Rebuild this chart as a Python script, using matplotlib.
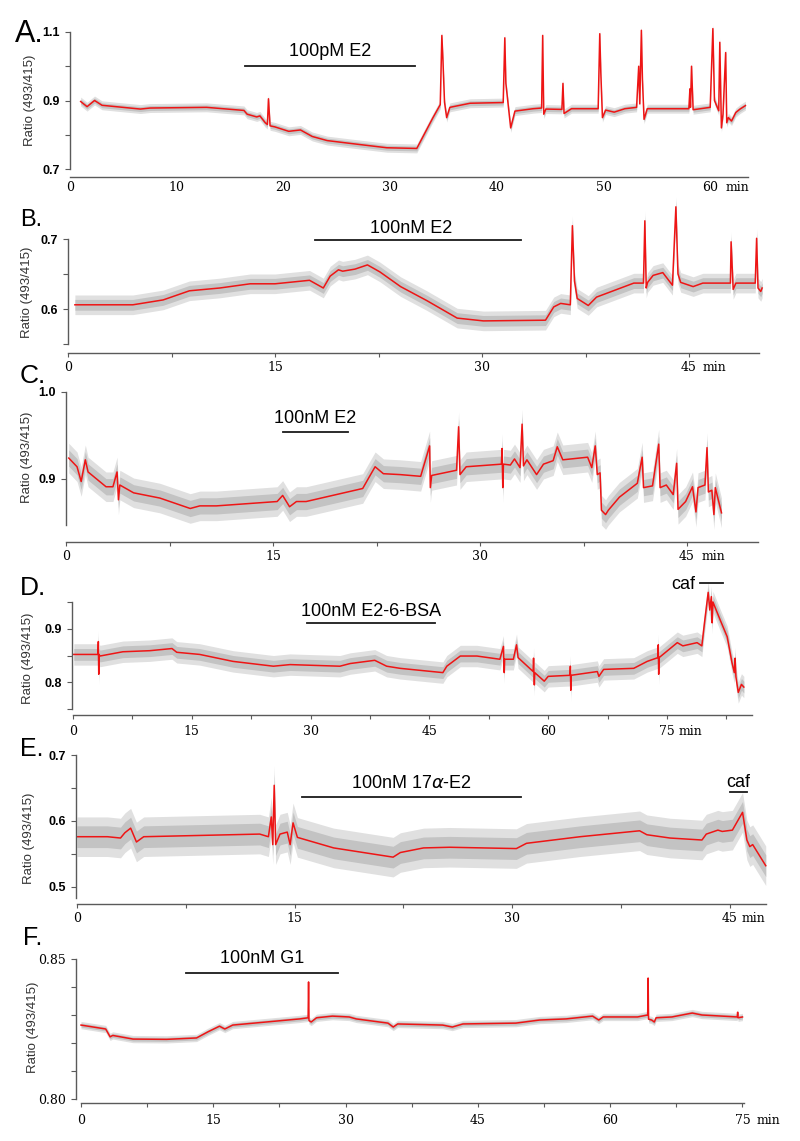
import matplotlib.pyplot as plt
from matplotlib.ticker import FixedLocator
from matplotlib.transforms import ScaledTranslation

# ---- data: time (min) and ratio of the averaged (red) trace, noise half width of raw (gray) trace
tA = [1.0, 1.6, 2.3, 3.0, 6.6, 7.5, 12.8, 16.3, 16.6, 17.5, 17.8, 18.3, 18.5, 18.6, 18.75, 19.2, 20.5,
      21.6, 22.7, 24.1, 26.2, 29.7, 32.5, 34.0, 34.7, 34.85, 34.95, 35.1, 35.3, 35.6, 37.5, 40.6, 40.75,
      40.85, 41.3, 41.7, 43.4, 44.2, 44.3, 44.4, 44.6, 46.1, 46.2, 46.3, 47.0, 49.5, 49.65, 49.75, 49.9,
      50.2, 51.0, 52.0, 53.1, 53.3, 53.4, 53.55, 53.65, 53.8, 54.1, 58.0, 58.1, 58.15, 58.25, 58.4, 60.0,
      60.25, 60.4, 60.8, 60.9, 61.05, 61.2, 61.45, 61.55, 61.7, 62.0, 62.4, 62.8, 63.3]
vA = [0.897, 0.882, 0.900, 0.886, 0.875, 0.878, 0.880, 0.871, 0.860, 0.852, 0.855, 0.835, 0.830, 0.905,
      0.826, 0.823, 0.810, 0.814, 0.795, 0.783, 0.775, 0.762, 0.760, 0.849, 0.888, 1.090, 1.020, 0.895,
      0.850, 0.880, 0.892, 0.894, 1.083, 0.950, 0.820, 0.869, 0.876, 0.878, 1.090, 0.860, 0.875, 0.874,
      0.950, 0.862, 0.876, 0.876, 1.095, 0.980, 0.850, 0.872, 0.866, 0.876, 0.880, 1.000, 0.890, 1.105,
      0.960, 0.845, 0.876, 0.876, 0.934, 0.880, 1.000, 0.873, 0.880, 1.110, 0.900, 0.870, 1.070, 0.820,
      0.860, 1.040, 0.835, 0.850, 0.840, 0.865, 0.875, 0.885]
wA = 0.013

tB = [0.5, 4.7, 6.9, 8.8, 11.0, 13.2, 15.0, 17.5, 18.5, 19.0, 19.6, 19.9, 20.8, 21.7, 22.6, 24.1, 26.0,
      28.2, 30.1, 34.6, 35.2, 35.7, 36.4, 36.55, 36.7, 36.9, 37.7, 38.3, 41.0, 41.7, 41.8, 41.9, 42.0,
      42.4, 43.1, 43.8, 44.05, 44.2, 44.4, 45.3, 46.0, 48.0, 48.05, 48.2, 48.4, 49.8, 49.9, 50.0, 50.2, 50.3]
vB = [0.606, 0.606, 0.613, 0.626, 0.630, 0.636, 0.636, 0.641, 0.630, 0.647, 0.656, 0.654, 0.657, 0.663,
      0.653, 0.632, 0.612, 0.587, 0.583, 0.584, 0.603, 0.608, 0.606, 0.719, 0.640, 0.615, 0.605, 0.617,
      0.637, 0.637, 0.726, 0.630, 0.638, 0.648, 0.652, 0.634, 0.746, 0.650, 0.638, 0.632, 0.637, 0.637,
      0.696, 0.628, 0.637, 0.637, 0.701, 0.630, 0.625, 0.630]
wB = 0.014

tC = [0.2, 0.8, 1.1, 1.4, 1.6, 2.9, 3.4, 3.7, 3.8, 3.9, 4.9, 6.8, 9.0, 9.7, 10.9, 15.3, 15.7, 16.2, 16.7,
      17.4, 21.5, 22.0, 22.4, 23.0, 24.2, 25.7, 26.35, 26.4, 26.5, 28.3, 28.45, 28.55, 29.0, 31.55, 31.6,
      31.65, 31.7, 32.2, 32.5, 32.9, 33.05, 33.15, 33.4, 34.1, 34.6, 35.3, 35.6, 36.0, 37.8, 38.1, 38.35,
      38.5, 38.7, 38.8, 39.1, 39.3, 40.1, 41.4, 41.75, 41.85, 42.5, 42.95, 43.05, 43.5, 44.0, 44.25, 44.35,
      44.9, 45.4, 45.65, 45.8, 46.3, 46.45, 46.55, 46.8, 46.95, 47.05, 47.5]
vC = [0.924, 0.914, 0.897, 0.922, 0.908, 0.891, 0.891, 0.908, 0.876, 0.893, 0.884, 0.878, 0.866, 0.869,
      0.869, 0.874, 0.881, 0.868, 0.874, 0.874, 0.889, 0.903, 0.914, 0.906, 0.905, 0.903, 0.938, 0.890,
      0.904, 0.910, 0.960, 0.905, 0.914, 0.917, 0.935, 0.890, 0.917, 0.916, 0.923, 0.913, 0.963, 0.915,
      0.922, 0.905, 0.917, 0.921, 0.937, 0.922, 0.925, 0.913, 0.938, 0.905, 0.907, 0.864, 0.859, 0.864,
      0.879, 0.895, 0.925, 0.890, 0.892, 0.940, 0.890, 0.893, 0.882, 0.918, 0.865, 0.874, 0.891, 0.862,
      0.890, 0.893, 0.936, 0.885, 0.887, 0.859, 0.890, 0.861]
wC = 0.017

tD = [0.1, 3.15, 3.2, 3.25, 3.3, 3.4, 6.3, 9.7, 12.5, 13.1, 16.0, 20.2, 25.3, 27.4, 33.7, 35.0, 38.1, 39.6,
      41.3, 46.7, 47.2, 48.9, 51.0, 53.9, 54.35, 54.45, 54.5, 55.6, 56.0, 56.2, 58.1, 58.15, 58.25, 58.3,
      59.5, 60.0, 62.75, 62.8, 62.85, 62.9, 66.2, 66.4, 67.0, 70.8, 72.5, 73.85, 73.9, 73.95, 74.0, 76.3,
      77.0, 78.8, 79.4, 79.7, 80.2, 80.4, 80.6, 80.7, 80.8, 81.7, 82.6, 83.2, 83.5, 83.6, 83.7, 84.0, 84.4, 84.7]
vD = [0.852, 0.852, 0.876, 0.815, 0.852, 0.849, 0.857, 0.859, 0.863, 0.856, 0.852, 0.839, 0.830, 0.833,
      0.830, 0.835, 0.841, 0.830, 0.826, 0.818, 0.830, 0.849, 0.849, 0.843, 0.867, 0.818, 0.843, 0.843,
      0.870, 0.846, 0.820, 0.845, 0.795, 0.818, 0.802, 0.811, 0.813, 0.830, 0.785, 0.813, 0.820, 0.811,
      0.824, 0.826, 0.839, 0.846, 0.870, 0.815, 0.846, 0.874, 0.868, 0.874, 0.868, 0.907, 0.968, 0.935,
      0.960, 0.911, 0.950, 0.917, 0.885, 0.837, 0.818, 0.845, 0.810, 0.781, 0.796, 0.791]
wD = 0.02

tE = [0.0, 2.1, 3.0, 3.3, 3.7, 4.1, 4.6, 12.6, 13.2, 13.4, 13.5, 13.6, 13.7, 14.0, 14.5, 14.7, 14.9, 15.2,
      17.7, 21.8, 22.3, 23.9, 25.7, 30.3, 31.0, 34.7, 38.8, 39.3, 40.9, 43.1, 43.4, 44.2, 44.5, 45.2, 45.9,
      46.2, 46.4, 46.6, 47.5]
vE = [0.576, 0.576, 0.574, 0.582, 0.589, 0.568, 0.576, 0.580, 0.576, 0.606, 0.564, 0.654, 0.564, 0.580,
      0.583, 0.564, 0.597, 0.575, 0.559, 0.545, 0.552, 0.559, 0.560, 0.558, 0.566, 0.576, 0.585, 0.579,
      0.574, 0.571, 0.580, 0.586, 0.584, 0.586, 0.613, 0.571, 0.561, 0.564, 0.532]
wE = 0.03

tF = [0.0, 2.8, 3.3, 3.6, 5.9, 9.7, 13.1, 14.4, 15.7, 16.3, 17.2, 24.8, 25.75, 25.8, 25.85, 26.1, 26.7,
      28.5, 30.4, 31.2, 34.8, 35.4, 35.9, 41.0, 42.1, 43.3, 49.3, 52.0, 55.0, 58.0, 58.7, 59.2, 63.1,
      64.25, 64.3, 64.35, 64.7, 65.0, 65.2, 67.0, 69.3, 70.4, 74.4, 74.45, 74.5, 75.0]
vF = [0.8264, 0.8250, 0.8222, 0.8227, 0.8214, 0.8213, 0.8218, 0.8240, 0.8260, 0.8250, 0.8264, 0.8286,
      0.8290, 0.8418, 0.8280, 0.8275, 0.8290, 0.8296, 0.8293, 0.8286, 0.8271, 0.8257, 0.8268, 0.8264,
      0.8257, 0.8268, 0.8271, 0.8282, 0.8286, 0.8296, 0.8282, 0.8293, 0.8293, 0.8300, 0.8432, 0.8285,
      0.8282, 0.8275, 0.8290, 0.8293, 0.8307, 0.8300, 0.8293, 0.8310, 0.8290, 0.8293]
wF = 0.0013

# drug applications: label, start, end (min)
drugs = {
    'A': [('100pM E2', 16.4, 32.3)],
    'B': [('100nM E2', 17.9, 32.8)],
    'C': [('100nM E2', 15.7, 20.4)],
    'D': [('100nM E2-6-BSA', 29.5, 45.7), ('caf', 79.2, 82.1)],
    'E': [('100nM 17$\\alpha$-E2', 15.5, 30.6), ('caf', 45.0, 46.2)],
    'F': [('100nM G1', 11.9, 29.1)],
}

# axis ticks
yt = {'A': [0.7, 0.9, 1.1], 'B': [0.6, 0.7], 'C': [0.9, 1.0], 'D': [0.8, 0.9], 'E': [0.5, 0.6, 0.7], 'F': [0.80, 0.85]}
ylab = {'A': ['0.7', '0.9', '1.1'], 'B': ['0.6', '0.7'], 'C': ['0.9', '1.0'], 'D': ['0.8', '0.9'],
        'E': ['0.5', '0.6', '0.7'], 'F': ['0.80', '0.85']}
ym = {'A': [0.8, 1.0], 'B': [0.55, 0.65], 'C': [], 'D': [0.75, 0.85, 0.95], 'E': [0.55, 0.65],
      'F': [0.81, 0.82, 0.83, 0.84]}
xt = {'A': [0, 10, 20, 30, 40, 50, 60], 'B': [0, 15, 30, 45], 'C': [0, 15, 30, 45],
      'D': [0, 15, 30, 45, 60, 75], 'E': [0, 15, 30, 45], 'F': [0, 15, 30, 45, 60, 75]}
xm = {'A': [], 'B': [7.5, 22.5, 37.5], 'C': [7.5, 22.5, 37.5], 'D': [7.5, 22.5, 37.5, 52.5, 67.5, 82.5],
      'E': [7.5, 22.5, 37.5], 'F': [7.5, 22.5, 37.5, 52.5, 67.5]}

# ---- layout (pixels)
W, H = 800, 1141
SANS = 'Liberation Sans'
SERIF = 'DejaVu Serif'
RED = '#ee1515'
AXC = '#5a5a5a'

# x0, xend, px/min, ytop px, ybot px, val top, val bot, xaxis px, yspine px, xlabel gap px, min dx
geo = {
    'A': (70, 748, 10.67, 32, 169, 1.1, 0.7, 177, 70, 6, 15),
    'B': (68, 759, 13.8, 239, 344, 0.7, 0.55, 353, 68, 10, 14),
    'C': (66, 758, 13.8, 392, 525, 1.0, 0.847, 542, 66, 10, 15),
    'D': (73, 752, 7.92, 602, 709, 0.95, 0.75, 715, 72, 12, 12),
    'E': (77, 766, 14.5, 755, 898, 0.7, 0.483, 904, 76, 10, 12),
    'F': (81, 744, 8.82, 959, 1099, 0.85, 0.80, 1103, 76, 13, 14),
}
# letter (x, baseline, size), ylabel centre (x, y)
letters = {'A': (15, 42, 22), 'B': (20, 226, 17), 'C': (20, 383, 19), 'D': (20, 595, 19),
           'E': (20, 756, 18), 'F': (23, 945, 18)}
ylabpos = {'A': (30, 100), 'B': (27, 292), 'C': (27, 457), 'D': (28, 658), 'E': (29, 838), 'F': (33, 1027)}
# bar pixel y, text baseline pixel y for each drug
drugpos = {'A': [(66, 56)], 'B': [(240, 233)], 'C': [(432, 423)], 'D': [(623, 616), (583, 589)],
           'E': [(797, 788), (792, 787)], 'F': [(973, 963)]}

traces = {'A': (tA, vA, wA), 'B': (tB, vB, wB), 'C': (tC, vC, wC), 'D': (tD, vD, wD), 'E': (tE, vE, wE),
          'F': (tF, vF, wF)}

P = 0.72  # points per pixel

fig = plt.figure(figsize=(W / 100, H / 100), dpi=100)

for k in 'ABCDEF':
    x0, xe, ppm, T, B, vT, vBt, xay, ysx, gap, mdx = geo[k]
    ax = fig.add_axes([x0 / W, 1 - B / H, (xe - x0) / W, (B - T) / H])
    tmax = (xe - x0) / ppm
    ax.set_xlim(0, tmax)
    ax.set_ylim(vBt, vT)
    ax.patch.set_alpha(0)

    def py2v(p):
        return vBt + (B - p) / (B - T) * (vT - vBt)

    t, v, w = traces[k]
    ax.fill_between(t, [a - w for a in v], [a + w for a in v], color='#e0e0e0', lw=0,
                    clip_on=False, zorder=1)
    ax.fill_between(t, [a - 0.55 * w for a in v], [a + 0.55 * w for a in v], color='#c3c3c3', lw=0,
                    clip_on=False, zorder=1)
    ax.plot(t, v, color=RED, lw=1.1, clip_on=False, zorder=2)

    for sp in ('top', 'right'):
        ax.spines[sp].set_visible(False)
    ax.spines['left'].set_bounds(vBt, vT)
    ax.spines['left'].set_position(('outward', (x0 - ysx) * P))
    ax.spines['bottom'].set_bounds(0, tmax)
    ax.spines['bottom'].set_position(('outward', (xay - B) * P))
    for sp in ('left', 'bottom'):
        ax.spines[sp].set_color(AXC)
        ax.spines[sp].set_linewidth(1.0)

    xlen = 0 if k == 'A' else 3.0
    xpad = (gap - 2) * P - xlen if k != 'A' else (gap - 2) * P
    xpad = max(xpad, 1.0)
    ax.xaxis.set_major_locator(FixedLocator(xt[k]))
    ax.xaxis.set_minor_locator(FixedLocator(xm[k]))
    ax.set_xticklabels([str(x) for x in xt[k]])
    ax.tick_params(axis='x', which='both', direction='out', length=xlen, width=0.8, color=AXC,
                   pad=xpad, labelsize=9)
    for lb in ax.get_xticklabels():
        lb.set_fontfamily(SERIF)

    ax.yaxis.set_major_locator(FixedLocator(yt[k]))
    ax.yaxis.set_minor_locator(FixedLocator(ym[k]))
    ax.set_yticklabels(ylab[k])
    ax.tick_params(axis='y', which='both', direction='out', length=3.6, width=0.8, color=AXC,
                   pad=3.5, labelsize=9)
    for lb in ax.get_yticklabels():
        if k == 'F':
            lb.set_fontfamily(SERIF)
        else:
            lb.set_fontfamily(SANS)
            lb.set_fontweight('bold')

    # "min" after the last labelled tick, on the tick-label line
    trans, va, ha = ax.get_xaxis_text1_transform(xpad + xlen)
    ax.text(xt[k][-1], 0, 'min', transform=trans + ScaledTranslation(mdx * P / 72, 0, fig.dpi_scale_trans),
            ha='left', va=va, fontsize=9, fontfamily=SERIF)

    for (lab, s, e), (by, ty) in zip(drugs[k], drugpos[k]):
        ax.plot([s, e], [py2v(by), py2v(by)], color='#1a1a1a', lw=1.3, clip_on=False)
        if lab == 'caf' and k == 'D':
            ax.text(s - 0.6, py2v(ty), lab, ha='right', va='baseline', fontsize=13, fontfamily=SANS)
        else:
            xc = 24.9 if k == 'B' else (s + e) / 2
            ax.text(xc, py2v(ty), lab, ha='center', va='baseline', fontsize=13, fontfamily=SANS)

    lx, lyb, ls = letters[k]
    fig.text(lx / W, 1 - lyb / H, k + '.', fontsize=ls, fontfamily=SANS, va='baseline', ha='left')
    yx, yy = ylabpos[k]
    fig.text(yx / W, 1 - yy / H, 'Ratio (493/415)', rotation=90, ha='center', va='center',
             fontsize=9.5, fontfamily=SANS, color='#333333')

fig.savefig('out.png', dpi=100)
